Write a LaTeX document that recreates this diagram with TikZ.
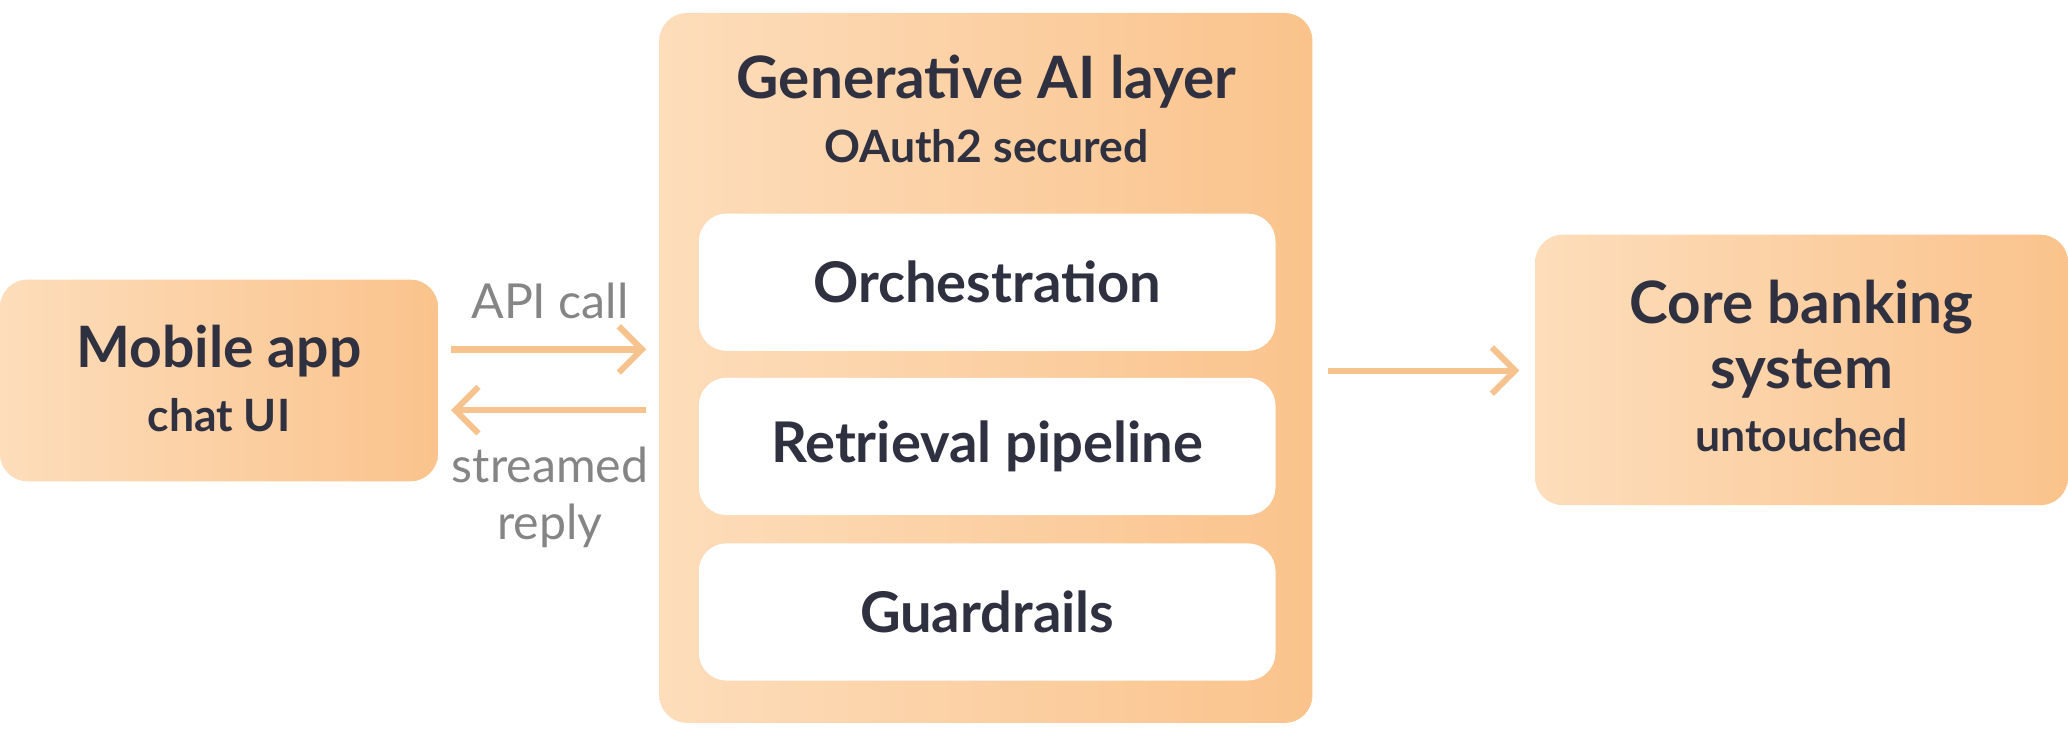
\documentclass[tikz,border=0pt]{standalone}
\usepackage{fontspec}
\setmainfont{Lato}
\usetikzlibrary{positioning,arrows.meta}
\definecolor{peachL}{HTML}{FDDDBB}
\definecolor{peachR}{HTML}{FAC38C}
\definecolor{inkD}{HTML}{2F3040}
\definecolor{arrowC}{HTML}{F6C28E}
\definecolor{noteC}{HTML}{858585}
\tikzset{
  panel/.style={rounded corners=6pt,left color=peachL,right color=peachR,draw=none},
  card/.style={rounded corners=6pt,fill=white,draw=none,minimum width=4.37cm,minimum height=1.04cm,
    font=\fontsize{12.1}{14}\selectfont\bfseries,text=inkD},
  flow/.style={-{Straight Barb[length=5pt,width=10pt]},line width=1.3pt,draw=arrowC},
  note/.style={font=\fontsize{10.4}{12.2}\selectfont,text=noteC}
}
\begin{document}
\begin{tikzpicture}[x=0.01cm,y=-0.01cm]
  \useasboundingbox (0,0) rectangle (1568,558);

  %boxes
  \node[panel,minimum width=3.32cm,minimum height=1.53cm] (mobile) at (166,288.5) {};
  \node[panel,minimum width=4.95cm,minimum height=5.38cm] (layer) at (747.5,279) {};
  \node[panel,minimum width=4.04cm,minimum height=2.05cm] (core) at (1366,280.5) {};

  %texts
  \node[font=\fontsize{12.3}{15}\selectfont\bfseries,text=inkD] (mobileT) at (166,266) {Mobile app};
  \node[font=\fontsize{9.6}{12}\selectfont\bfseries,text=inkD] (mobileS) at (166,315) {chat UI};
  \node[font=\fontsize{12.6}{15}\selectfont\bfseries,text=inkD] (layerT) at (748,62) {Generative AI layer};
  \node[font=\fontsize{9.6}{12}\selectfont\bfseries,text=inkD] (layerS) at (748,111) {OAuth2 secured};
  \node[font=\fontsize{12.6}{15}\selectfont\bfseries,text=inkD,align=center] (coreT) at (1366,257) {Core banking\\[-1pt]system};
  \node[font=\fontsize{9.6}{12}\selectfont\bfseries,text=inkD] (coreS) at (1366,330) {untouched};

  %inner stages
  \node[card] (orch) at (748.5,214) {Orchestration};
  \node[card] (retr) at (748.5,338.5) {Retrieval pipeline};
  \node[card] (guard) at (748.5,464) {Guardrails};

  %arrows
  \coordinate (apiA) at (342,265);
  \coordinate (apiB) at (490,265);
  \coordinate (repA) at (490,311);
  \coordinate (repB) at (342,311);
  \coordinate (outA) at (1007,281);
  \coordinate (outB) at (1152,281);
  \draw[flow] (apiA) -- (apiB);
  \draw[flow] (repA) -- (repB);
  \draw[flow] (outA) -- (outB);
  \node[note] (apiL) at (417,228) {API call};
  \node[note,align=center] (repL) at (417,377) {streamed\\reply};
\end{tikzpicture}
\end{document}
